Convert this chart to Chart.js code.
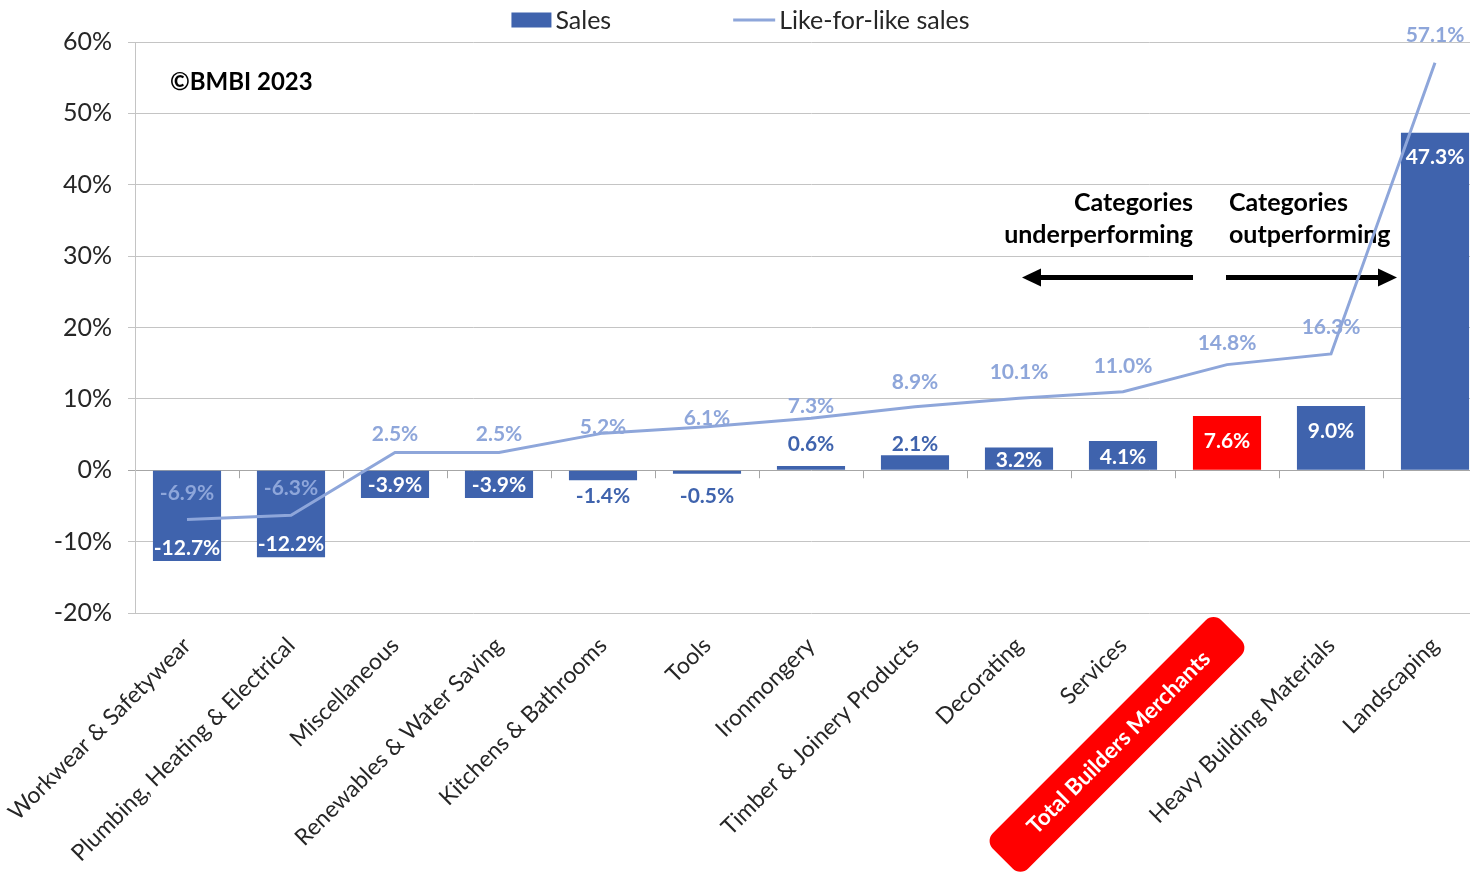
<!DOCTYPE html>
<html>
<head>
<meta charset="utf-8">
<script src="https://cdn.jsdelivr.net/npm/chart.js@4.4.0/dist/chart.umd.min.js"></script>
<style>
    html, body { margin: 0; padding: 0; background: #fff; overflow: hidden; }
    #wrap { width: 1487px; height: 874px; }
</style>
</head>
<body>
<div id="wrap"><canvas id="chart" width="1487" height="874"></canvas></div>
<script>
// --- 1. DATA ---
const categories = [
    "Workwear & Safetywear", "Plumbing, Heating & Electrical", "Miscellaneous",
    "Renewables & Water Saving", "Kitchens & Bathrooms", "Tools", "Ironmongery",
    "Timber & Joinery Products", "Decorating", "Services", "Total Builders Merchants",
    "Heavy Building Materials", "Landscaping"
];
const salesValues = [-12.7, -12.2, -3.9, -3.9, -1.4, -0.5, 0.6, 2.1, 3.2, 4.1, 7.6, 9.0, 47.3];
const lflValues = [-6.9, -6.3, 2.5, 2.5, 5.2, 6.1, 7.3, 8.9, 10.1, 11.0, 14.8, 16.3, 57.1];
const yTicks = [-20, -10, 0, 10, 20, 30, 40, 50, 60];
const seriesNames = ["Sales", "Like-for-like sales"];
const highlightIndex = 10;

// --- 2. STYLE ---
const BAR_BLUE = "#3F63AD";
const BAR_RED = "#FF0000";
const LINE_BLUE = "#8EA6DA";
const TEXT = "#262626";
const GRID = "#C4C4C4";
const FONT = "Lato, 'Open Sans', sans-serif";
// how far (px) each like-for-like label sits above its point (hand-placed in the original)
const lflLabelLift = [26, 27, 18, 18, 6, 8, 12, 24, 26, 26, 21, 27, 27];

const fmt = v => v.toFixed(1) + "%";

// --- 3. Custom drawing (labels, legend, notes) ---
function arrow(ctx, xFrom, xTo, y) {
    const dir = xTo > xFrom ? 1 : -1;
    const head = 19;
    ctx.beginPath();
    ctx.moveTo(xFrom, y);
    ctx.lineTo(xTo - dir * head, y);
    ctx.lineWidth = 5;
    ctx.strokeStyle = "#000";
    ctx.stroke();
    ctx.beginPath();
    ctx.moveTo(xTo, y);
    ctx.lineTo(xTo - dir * head, y - 9);
    ctx.lineTo(xTo - dir * head, y + 9);
    ctx.closePath();
    ctx.fillStyle = "#000";
    ctx.fill();
}

const extrasPlugin = {
    id: "extras",
    beforeDatasetsDraw(chart) {
        const { ctx, chartArea } = chart;
        const xs = chart.scales.x, ys = chart.scales.y;
        ctx.save();

        // tick marks on the zero line between categories
        const y0 = ys.getPixelForValue(0);
        ctx.strokeStyle = "#A6A6A6";
        ctx.lineWidth = 1;
        for (let i = 1; i <= categories.length; i++) {
            const x = Math.round(xs.getPixelForValue(i - 0.5)) + 0.5;
            ctx.beginPath();
            ctx.moveTo(x, y0);
            ctx.lineTo(x, y0 + 8);
            ctx.stroke();
        }

        // copyright
        ctx.fillStyle = "#000";
        ctx.font = `bold 24px ${FONT}`;
        ctx.textBaseline = "middle";
        ctx.textAlign = "left";
        ctx.fillText("©BMBI 2023", chartArea.left + 35, ys.getPixelForValue(54.3));

        // under/out performing notes
        const cx = xs.getPixelForTick(highlightIndex);
        ctx.font = `bold 25px ${FONT}`;
        ctx.textAlign = "right";
        ctx.fillText("Categories", cx - 34, ys.getPixelForValue(37.5));
        ctx.fillText("underperforming", cx - 34, ys.getPixelForValue(33));
        ctx.textAlign = "left";
        ctx.fillText("Categories", cx + 2, ys.getPixelForValue(37.5));
        ctx.fillText("outperforming", cx + 2, ys.getPixelForValue(33));
        const ay = ys.getPixelForValue(27);
        arrow(ctx, cx - 34, cx - 205, ay);
        arrow(ctx, cx - 1, cx + 170, ay);
        ctx.restore();
    },
    afterDatasetsDraw(chart) {
        const { ctx } = chart;
        ctx.save();
        ctx.textAlign = "center";
        ctx.textBaseline = "middle";
        ctx.font = `bold 21px ${FONT}`;

        // bar labels
        chart.getDatasetMeta(0).data.forEach((bar, i) => {
            const v = salesValues[i];
            const h = Math.abs(bar.base - bar.y);
            const mid = (bar.base + bar.y) / 2;
            let y, color;
            if (h > 20) {
                color = "#fff";
                y = v >= 0 ? Math.min(bar.y + 25, mid + 2) : Math.max(bar.y - 13, mid);
            } else {
                color = BAR_BLUE;
                y = v >= 0 ? bar.base - 26 : bar.base + 25;
            }
            ctx.fillStyle = color;
            ctx.fillText(fmt(v), bar.x, y);
        });

        // line labels
        ctx.fillStyle = LINE_BLUE;
        chart.getDatasetMeta(1).data.forEach((pt, i) => {
            ctx.fillText(fmt(lflValues[i]), pt.x, pt.y - lflLabelLift[i]);
        });
        ctx.restore();
    },
    afterDraw(chart) {
        const { ctx } = chart;
        ctx.save();

        // legend
        ctx.font = `25px ${FONT}`;
        ctx.textBaseline = "middle";
        ctx.textAlign = "left";
        const w1 = ctx.measureText(seriesNames[0]).width;
        const w2 = ctx.measureText(seriesNames[1]).width;
        const gap = 122;
        const total = 40 + 4 + w1 + gap + 42 + 4 + w2;
        let x = chart.width / 2 - 3 - total / 2;
        const ly = 20;
        ctx.fillStyle = BAR_BLUE;
        ctx.fillRect(x, ly - 7.5, 40, 15);
        ctx.fillStyle = TEXT;
        ctx.fillText(seriesNames[0], x + 44, ly + 1);
        x += 44 + w1 + gap;
        ctx.strokeStyle = LINE_BLUE;
        ctx.lineWidth = 3;
        ctx.beginPath();
        ctx.moveTo(x, ly);
        ctx.lineTo(x + 42, ly);
        ctx.stroke();
        ctx.fillText(seriesNames[1], x + 46, ly + 1);

        // highlighted category label
        const xs = chart.scales.x;
        const px = xs.getPixelForTick(highlightIndex);
        const py = chart.chartArea.bottom + 10;
        ctx.translate(px, py);
        ctx.rotate(-Math.PI / 4);
        ctx.font = `bold 22.5px ${FONT}`;
        const label = categories[highlightIndex];
        const tw = ctx.measureText(label).width;
        const endU = -37, v = 8, bh = 50;
        const x0 = endU - tw - 40, x1 = -2;
        ctx.fillStyle = BAR_RED;
        ctx.beginPath();
        ctx.roundRect(x0, v - bh / 2, x1 - x0, bh, 11);
        ctx.fill();
        ctx.fillStyle = "#fff";
        ctx.textAlign = "right";
        ctx.fillText(label, endU, v);
        ctx.restore();
    }
};

// --- 4. Chart ---
const ctx = document.getElementById("chart").getContext("2d");
new Chart(ctx, {
    data: {
        labels: categories,
        datasets: [
            {
                type: "bar",
                label: seriesNames[0],
                data: salesValues,
                backgroundColor: salesValues.map((_, i) => i === highlightIndex ? BAR_RED : BAR_BLUE),
                barPercentage: 0.655,
                categoryPercentage: 1,
                order: 1
            },
            {
                type: "line",
                label: seriesNames[1],
                data: lflValues,
                borderColor: LINE_BLUE,
                borderWidth: 3,
                pointRadius: 0,
                tension: 0,
                order: 0
            }
        ]
    },
    options: {
        responsive: false,
        animation: false,
        layout: { padding: { top: 42, left: 0, right: 0, bottom: 0 } },
        plugins: {
            legend: { display: false },
            tooltip: { enabled: false }
        },
        scales: {
            x: {
                grid: { display: false, drawTicks: false },
                border: { display: false },
                ticks: {
                    autoSkip: false,
                    maxRotation: 45,
                    minRotation: 45,
                    padding: 19,
                    font: { family: FONT, size: 23 },
                    color: c => c.index === highlightIndex ? "rgba(0,0,0,0)" : TEXT
                },
                afterFit: s => {
                    s.height = 261;
                    s.paddingLeft = 0;
                    s.paddingRight = 0;
                }
            },
            y: {
                min: -20,
                max: 60,
                afterBuildTicks: s => { s.ticks = yTicks.map(v => ({ value: v })); },
                grid: {
                    color: c => c.tick && c.tick.value === 0 ? "#A6A6A6" : GRID,
                    tickLength: 7
                },
                border: { display: true, color: GRID },
                ticks: {
                    padding: 16,
                    font: { family: FONT, size: 25 },
                    color: TEXT,
                    callback: v => v + "%"
                },
                afterFit: s => { s.width = 135; }
            }
        }
    },
    plugins: [extrasPlugin]
});
</script>
</body>
</html>
